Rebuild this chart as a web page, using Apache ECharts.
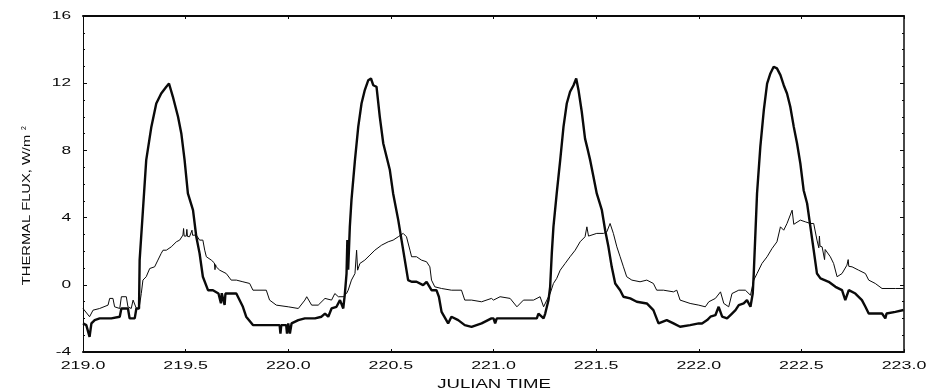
<!DOCTYPE html>
<html>
<head>
<meta charset="utf-8">
<script src="https://cdn.jsdelivr.net/npm/echarts@6/dist/echarts.min.js"></script>
<style>
  html, body { margin: 0; padding: 0; background: #ffffff; }
  #chart { width: 927px; height: 392px; }
</style>
</head>
<body>
<div id="chart"></div>
<script>
// Heavy trace: thermal flux, Julian days 219-223 (W/m^2)
const heavyTime = [
  219.000, 219.016, 219.032, 219.041, 219.057, 219.081, 219.138, 219.146, 219.179, 219.187,
  219.219, 219.227, 219.252, 219.260, 219.273, 219.276, 219.292, 219.308, 219.333, 219.357,
  219.381, 219.406, 219.419, 219.438, 219.463, 219.479, 219.495, 219.511, 219.536, 219.552,
  219.568, 219.584, 219.609, 219.633, 219.660, 219.672, 219.676, 219.690, 219.694, 219.747,
  219.779, 219.795, 219.828, 219.958, 219.962, 219.966, 219.990, 219.994,
  220.000, 220.008, 220.016, 220.049, 220.081, 220.130, 220.162, 220.179, 220.195, 220.211,
  220.235, 220.252, 220.268, 220.276, 220.284, 220.288, 220.292, 220.300, 220.308, 220.325,
  220.341, 220.357, 220.373, 220.390, 220.403, 220.414, 220.430, 220.446, 220.463, 220.479,
  220.495, 220.511, 220.536, 220.552, 220.568, 220.584, 220.601, 220.625, 220.657, 220.674,
  220.698, 220.722, 220.734, 220.747, 220.779, 220.795, 220.828, 220.860, 220.893, 220.942,
  220.990,
  221.000, 221.008, 221.016, 221.211, 221.219, 221.244, 221.252, 221.268, 221.276, 221.284,
  221.292, 221.308, 221.325, 221.341, 221.357, 221.373, 221.390, 221.403, 221.414, 221.430,
  221.446, 221.460, 221.471, 221.487, 221.503, 221.528, 221.544, 221.560, 221.576, 221.593,
  221.617, 221.633, 221.666, 221.698, 221.747, 221.779, 221.804, 221.844, 221.877, 221.909,
  221.958,
  222.000, 222.016, 222.041, 222.057, 222.081, 222.097, 222.114, 222.138, 222.162, 222.179,
  222.195, 222.219, 222.235, 222.252, 222.263, 222.268, 222.276, 222.284, 222.300, 222.317,
  222.333, 222.349, 222.365, 222.381, 222.398, 222.414, 222.430, 222.446, 222.463, 222.479,
  222.495, 222.511, 222.528, 222.544, 222.560, 222.576, 222.593, 222.633, 222.666, 222.698,
  222.714, 222.731, 222.763, 222.795, 222.812, 222.828, 222.893, 222.909, 222.915, 222.958,
  222.998
];
const heavyFlux = [
  -2.30, -2.40, -3.10, -2.30, -2.10, -2.00, -2.00, -1.90, -1.90, -1.41,
  -1.41, -2.00, -2.00, -1.41, -1.41, 1.47, 4.44, 7.42, 9.40, 10.79,
  11.39, 11.79, 11.98, 11.19, 10.00, 9.01, 7.42, 5.44, 4.44, 2.86,
  1.87, 0.48, -0.32, -0.32, -0.52, -1.10, -0.50, -1.20, -0.52, -0.52,
  -1.31, -1.90, -2.40, -2.40, -2.90, -2.40, -2.40, -2.90,
  -2.30, -2.90, -2.30, -2.10, -2.00, -2.00, -1.90, -1.71, -1.90, -1.41,
  -1.31, -0.91, -1.41, -0.52, 0.67, 2.66, 0.90, 3.45, 5.04, 7.42,
  9.40, 10.79, 11.59, 12.18, 12.28, 11.88, 11.79, 10.00, 8.41, 7.62,
  6.83, 5.44, 3.85, 2.66, 1.47, 0.28, 0.18, 0.18, -0.02, 0.18,
  -0.32, -0.32, -0.71, -1.61, -2.30, -1.90, -2.10, -2.40, -2.50, -2.30,
  -2.00,
  -2.00, -2.30, -2.00, -2.00, -1.71, -2.00, -1.71, -0.91, -0.12, 1.87,
  3.45, 5.44, 7.42, 9.40, 10.79, 11.49, 11.88, 12.28, 11.60, 10.30,
  8.70, 8.00, 7.42, 6.43, 5.44, 4.44, 3.25, 2.26, 1.07, 0.08,
  -0.32, -0.71, -0.81, -1.01, -1.11, -1.51, -2.30, -2.10, -2.30, -2.50,
  -2.40,
  -2.30, -2.30, -2.10, -1.90, -1.81, -1.31, -1.90, -2.00, -1.71, -1.51,
  -1.21, -1.11, -0.91, -1.31, -0.52, 0.67, 3.06, 5.44, 8.21, 10.40,
  11.98, 12.58, 12.98, 12.88, 12.48, 11.88, 11.39, 10.60, 9.40, 8.41,
  7.22, 5.63, 4.84, 3.45, 2.06, 0.67, 0.38, 0.18, -0.12, -0.32,
  -0.91, -0.32, -0.52, -0.91, -1.31, -1.71, -1.71, -2.00, -1.71, -1.61,
  -1.50
];

// Light trace
const lightTime = [
  219.000, 219.032, 219.049, 219.081, 219.122, 219.130, 219.146, 219.154, 219.179, 219.187,
  219.211, 219.219, 219.235, 219.244, 219.260, 219.273, 219.284, 219.292, 219.308, 219.325,
  219.349, 219.365, 219.381, 219.390, 219.406, 219.430, 219.455, 219.471, 219.487, 219.490,
  219.493, 219.503, 219.506, 219.509, 219.519, 219.528, 219.531, 219.534, 219.552, 219.568,
  219.584, 219.593, 219.601, 219.625, 219.640, 219.643, 219.646, 219.649, 219.666,
  219.698, 219.722, 219.747, 219.779, 219.812, 219.828, 219.893, 219.909, 219.942,
  220.000, 220.049, 220.081, 220.090, 220.114, 220.146, 220.179, 220.211, 220.227, 220.244,
  220.268, 220.284, 220.292, 220.308, 220.325, 220.333, 220.338, 220.349, 220.373, 220.398,
  220.422, 220.455, 220.487, 220.511, 220.536, 220.560, 220.576, 220.593, 220.601, 220.625,
  220.649, 220.674, 220.690, 220.698, 220.714, 220.747, 220.795, 220.844, 220.860, 220.893,
  220.942, 220.990,
  221.000, 221.032, 221.081, 221.114, 221.146, 221.195, 221.227, 221.244, 221.260, 221.276,
  221.292, 221.308, 221.325, 221.349, 221.373, 221.398, 221.422, 221.446, 221.455, 221.463,
  221.471, 221.503, 221.536, 221.552, 221.568, 221.584, 221.601, 221.617, 221.633, 221.649,
  221.674, 221.714, 221.747, 221.779, 221.795, 221.828, 221.877, 221.893, 221.909, 221.958,
  222.000, 222.032, 222.049, 222.081, 222.106, 222.122, 222.146, 222.162, 222.195, 222.227,
  222.252, 222.268, 222.284, 222.308, 222.333, 222.357, 222.381, 222.398, 222.414, 222.430,
  222.455, 222.463, 222.471, 222.495, 222.519, 222.544, 222.560, 222.576, 222.585, 222.588,
  222.591, 222.601, 222.610, 222.613, 222.616, 222.625, 222.641, 222.657, 222.674, 222.698,
  222.722, 222.728, 222.731, 222.747, 222.779, 222.812, 222.828, 222.860, 222.893, 222.958,
  222.998
];
const lightFlux = [
  -1.41, -1.90, -1.51, -1.41, -1.21, -0.81, -0.81, -1.31, -1.41, -0.71,
  -0.71, -1.31, -1.41, -0.91, -1.41, -1.41, -0.52, 0.28, 0.48, 0.97,
  1.07, 1.47, 1.87, 2.06, 2.06, 2.26, 2.56, 2.66, 2.96, 3.35,
  2.90, 2.90, 3.30, 2.88, 2.86, 2.95, 3.25, 2.95, 2.96, 2.66,
  2.66, 2.06, 1.67, 1.47, 1.30, 0.90, 1.20, 1.07, 0.87,
  0.67, 0.28, 0.28, 0.18, 0.08, -0.32, -0.32, -0.91, -1.21,
  -1.31, -1.41, -0.91, -0.71, -1.21, -1.21, -0.81, -0.91, -0.52, -0.71,
  -0.71, -0.52, -0.32, 0.28, 0.67, 2.06, 0.87, 1.27, 1.47, 1.77,
  2.06, 2.36, 2.56, 2.66, 2.86, 3.06, 2.86, 2.06, 1.67, 1.67,
  1.47, 1.37, 1.07, 0.28, -0.12, -0.22, -0.32, -0.32, -0.91, -0.91,
  -1.01, -0.81,
  -0.91, -0.71, -0.81, -1.31, -0.91, -0.91, -0.71, -1.31, -0.91, -0.52,
  0.08, 0.38, 0.87, 1.27, 1.67, 2.06, 2.56, 2.86, 3.45, 2.90,
  2.96, 3.06, 3.06, 3.15, 3.65, 3.06, 2.26, 1.67, 1.07, 0.48,
  0.28, 0.18, 0.28, 0.08, -0.32, -0.32, -0.42, -0.32, -0.91, -1.11,
  -1.21, -1.31, -1.01, -0.81, -0.42, -1.11, -1.31, -0.52, -0.32, -0.32,
  -0.62, 0.28, 0.67, 1.27, 1.67, 2.16, 2.56, 3.45, 3.25, 3.65,
  4.44, 3.60, 3.65, 3.85, 3.75, 3.65, 3.65, 2.66, 2.20, 2.90,
  2.30, 2.26, 2.20, 1.50, 2.10, 2.06, 1.67, 1.27, 0.48, 0.67,
  1.17, 1.50, 1.10, 1.07, 0.87, 0.67, 0.28, 0.08, -0.22, -0.22,
  -0.22
];

// Tick labels
const xTickLabels = ['219.0', '219.5', '220.0', '220.5', '221.0', '221.5', '222.0', '222.5', '223.0'];
const yTickLabels = ['-4', '0', '4', '8', '12', '16'];
const xAxisTitle = 'JULIAN TIME';
const yAxisTitle = 'THERMAL FLUX, W/m';
const yAxisTitleSup = '2';

const pairs = (t, v) => t.map((x, i) => [x, v[i]]);
const ink = '#0a0a0a';
const tickFont = '"Liberation Sans", Arial, sans-serif';

const chart = echarts.init(document.getElementById('chart'), null, { renderer: 'canvas' });

const baseX = {
  type: 'value', min: 219, max: 223, interval: 0.5,
  axisLabel: { show: false },
  splitLine: { show: false },
  axisTick: { show: true, inside: true, length: 3, lineStyle: { color: ink, width: 1 } }
};
const baseY = {
  type: 'value', min: -4, max: 16, interval: 4,
  axisLabel: { show: false },
  splitLine: { show: false },
  axisTick: { show: true, inside: true, length: 4, lineStyle: { color: ink, width: 1 } },
  minorTick: { show: true, splitNumber: 4, length: 2, lineStyle: { color: ink, width: 1 } }
};

chart.setOption({
  animation: false,
  backgroundColor: '#ffffff',
  grid: { left: 83, right: 23, top: 16, bottom: 40, containLabel: false },
  xAxis: [
    Object.assign({}, baseX, { position: 'bottom', axisLine: { show: true, onZero: false, lineStyle: { color: ink, width: 2 } } }),
    Object.assign({}, baseX, { position: 'top', axisLine: { show: true, onZero: false, lineStyle: { color: ink, width: 2 } } })
  ],
  yAxis: [
    Object.assign({}, baseY, { position: 'left', axisLine: { show: true, onZero: false, lineStyle: { color: ink, width: 1 } } }),
    Object.assign({}, baseY, { position: 'right', axisLine: { show: true, onZero: false, lineStyle: { color: ink, width: 1.5 } } })
  ],
  series: [
    {
      name: 'light', type: 'line', data: pairs(lightTime, lightFlux),
      showSymbol: false, symbol: 'none', silent: true,
      lineStyle: { color: ink, width: 1 }, z: 2
    },
    {
      name: 'heavy', type: 'line', data: pairs(heavyTime, heavyFlux),
      showSymbol: false, symbol: 'none', silent: true,
      lineStyle: { color: ink, width: 2.4 }, z: 3
    }
  ]
});

// Axis text drawn in a wide, extended face
const labels = [];
xTickLabels.forEach(function (t) {
  const px = chart.convertToPixel({ xAxisIndex: 0 }, parseFloat(t));
  labels.push({
    type: 'text', x: px, y: 366, scaleX: 1.55, silent: true,
    style: { text: t, font: '11.5px ' + tickFont, fill: ink, align: 'center', verticalAlign: 'middle' }
  });
});
yTickLabels.forEach(function (t) {
  const py = chart.convertToPixel({ yAxisIndex: 0 }, parseFloat(t));
  labels.push({
    type: 'text', x: 71, y: py, scaleX: 1.5, silent: true,
    style: { text: t, font: '11.5px ' + tickFont, fill: ink, align: 'right', verticalAlign: 'middle' }
  });
});
labels.push({
  type: 'text', x: 494, y: 385, scaleX: 1.55, silent: true,
  style: { text: xAxisTitle, font: '12px ' + tickFont, fill: ink, align: 'center', verticalAlign: 'middle' }
});
labels.push({
  type: 'text', x: 27, y: 210, rotation: Math.PI / 2, scaleX: 1.4, silent: true,
  style: { text: yAxisTitle, font: '10.5px ' + tickFont, fill: ink, align: 'center', verticalAlign: 'middle' }
});
labels.push({
  type: 'text', x: 24, y: 128, rotation: Math.PI / 2, silent: true,
  style: { text: yAxisTitleSup, font: '7px ' + tickFont, fill: ink, align: 'center', verticalAlign: 'middle' }
});
chart.setOption({ graphic: { elements: labels } });
</script>
</body>
</html>
